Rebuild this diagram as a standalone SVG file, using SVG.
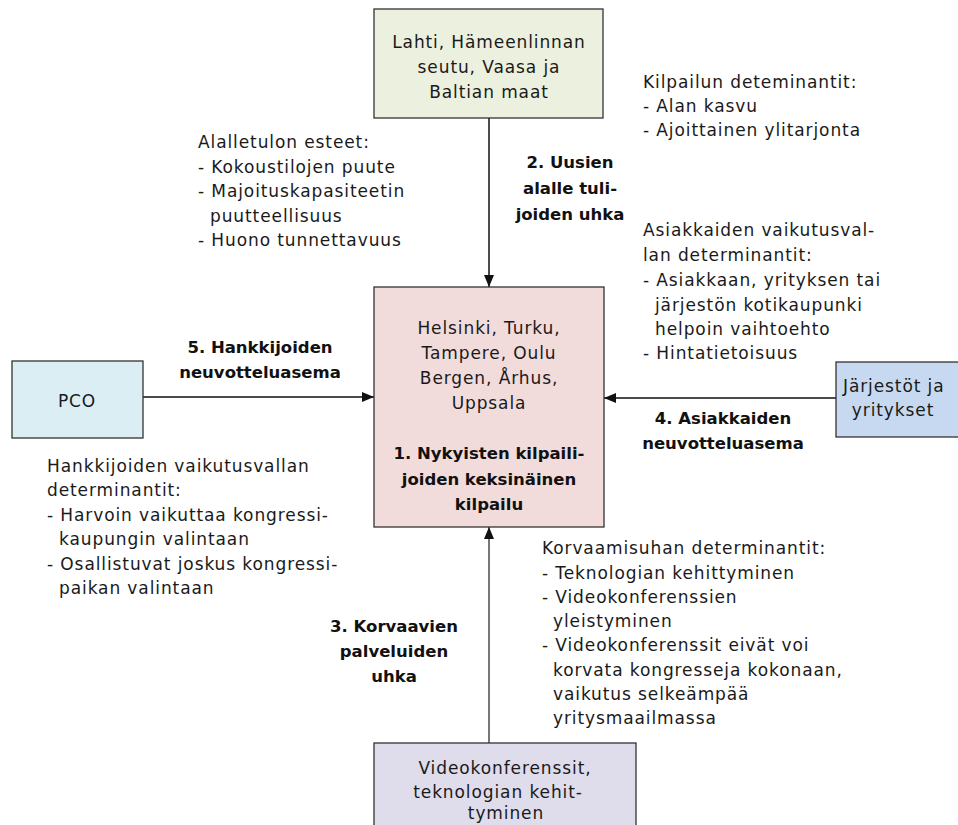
<svg xmlns="http://www.w3.org/2000/svg" width="958" height="825" viewBox="0 0 958 825">
<defs>
<style>
.r{font-family:"DejaVu Sans","Liberation Sans",sans-serif;font-size:17px;letter-spacing:0.9px;fill:#1a1a1a}
.b{font-family:"DejaVu Sans","Liberation Sans",sans-serif;font-size:16.5px;font-weight:bold;fill:#111}
.c{text-anchor:middle}
.box{stroke:#333;stroke-width:1.3}
.ln{stroke:#111;stroke-width:1.5;fill:none}
</style>
<marker id="ah" viewBox="0 0 12 10" refX="12" refY="5" markerWidth="12" markerHeight="10" markerUnits="userSpaceOnUse" orient="auto">
<path d="M0,0 L12,5 L0,10 Z" fill="#111"/>
</marker>
</defs>
<rect width="958" height="825" fill="#fff"/>

<g id="connectors">
<line class="ln" x1="489" y1="118" x2="489" y2="287" marker-end="url(#ah)"/>
<line class="ln" x1="143" y1="397" x2="374" y2="397" marker-end="url(#ah)"/>
<line class="ln" x1="836" y1="398" x2="604" y2="398" marker-end="url(#ah)"/>
<line x1="489" y1="743" x2="489" y2="527" stroke="#777" stroke-width="2" marker-end="url(#ah)"/>
</g>

<g id="top">
<rect class="box" x="374" y="9" width="229" height="109" fill="#ebf1de"/>
<text class="r c" x="489" y="48">Lahti, Hämeenlinnan</text>
<text class="r c" x="489" y="73">seutu, Vaasa ja</text>
<text class="r c" x="489" y="98">Baltian maat</text>
</g>

<g id="center">
<rect class="box" x="374" y="287" width="230" height="240" fill="#f2dcdb"/>
<text class="r c" x="489" y="334">Helsinki, Turku,</text>
<text class="r c" x="489" y="359">Tampere, Oulu</text>
<text class="r c" x="489" y="384">Bergen, Århus,</text>
<text class="r c" x="489" y="409">Uppsala</text>
<text class="b c" x="489" y="459">1. Nykyisten kilpaili-</text>
<text class="b c" x="489" y="485">joiden keksinäinen</text>
<text class="b c" x="489" y="510">kilpailu</text>
</g>

<g id="pco">
<rect class="box" x="12" y="361" width="131" height="77" fill="#dbeef3"/>
<text class="r c" x="77" y="407">PCO</text>
</g>

<g id="customers">
<rect class="box" x="836" y="362" width="140" height="75" fill="#c6d9f0"/>
<text class="r" x="843" y="392">Järjestöt ja</text>
<text class="r c" x="893" y="416">yritykset</text>
</g>

<g id="substitutes">
<rect class="box" x="374" y="743" width="262" height="100" fill="#dfdcec"/>
<text class="r c" x="505" y="774">Videokonferenssit,</text>
<text class="r c" x="498" y="798">teknologian kehit-</text>
<text class="r c" x="506" y="819">tyminen</text>
</g>

<g id="labels">
<text class="b c" x="570" y="168">2. Uusien</text>
<text class="b c" x="570" y="194">alalle tuli-</text>
<text class="b c" x="570" y="220">joiden uhka</text>
<text class="b c" x="260" y="353">5. Hankkijoiden</text>
<text class="b c" x="260" y="378">neuvotteluasema</text>
<text class="b c" x="723" y="424">4. Asiakkaiden</text>
<text class="b c" x="723" y="449">neuvotteluasema</text>
<text class="b c" x="394" y="632">3. Korvaavien</text>
<text class="b c" x="394" y="657">palveluiden</text>
<text class="b c" x="394" y="682">uhka</text>
</g>

<g id="notes">
<text class="r" x="198" y="148">Alalletulon esteet:</text>
<text class="r" x="198" y="173">- Kokoustilojen puute</text>
<text class="r" x="198" y="197">- Majoituskapasiteetin</text>
<text class="r" x="210" y="222">puutteellisuus</text>
<text class="r" x="198" y="246">- Huono tunnettavuus</text>

<text class="r" x="643" y="88">Kilpailun deteminantit:</text>
<text class="r" x="643" y="112">- Alan kasvu</text>
<text class="r" x="643" y="136">- Ajoittainen ylitarjonta</text>

<text class="r" x="643" y="236">Asiakkaiden vaikutusval-</text>
<text class="r" x="643" y="261">lan determinantit:</text>
<text class="r" x="643" y="286">- Asiakkaan, yrityksen tai</text>
<text class="r" x="655" y="311">järjestön kotikaupunki</text>
<text class="r" x="655" y="335">helpoin vaihtoehto</text>
<text class="r" x="643" y="359">- Hintatietoisuus</text>

<text class="r" x="47" y="472">Hankkijoiden vaikutusvallan</text>
<text class="r" x="47" y="496">determinantit:</text>
<text class="r" x="47" y="521">- Harvoin vaikuttaa kongressi-</text>
<text class="r" x="59" y="545">kaupungin valintaan</text>
<text class="r" x="47" y="570">- Osallistuvat joskus kongressi-</text>
<text class="r" x="59" y="594">paikan valintaan</text>

<text class="r" x="542" y="554">Korvaamisuhan determinantit:</text>
<text class="r" x="542" y="579">- Teknologian kehittyminen</text>
<text class="r" x="542" y="603">- Videokonferenssien</text>
<text class="r" x="553" y="627">yleistyminen</text>
<text class="r" x="542" y="651">- Videokonferenssit eivät voi</text>
<text class="r" x="553" y="676">korvata kongresseja kokonaan,</text>
<text class="r" x="553" y="700">vaikutus selkeämpää</text>
<text class="r" x="553" y="724">yritysmaailmassa</text>
</g>
</svg>
